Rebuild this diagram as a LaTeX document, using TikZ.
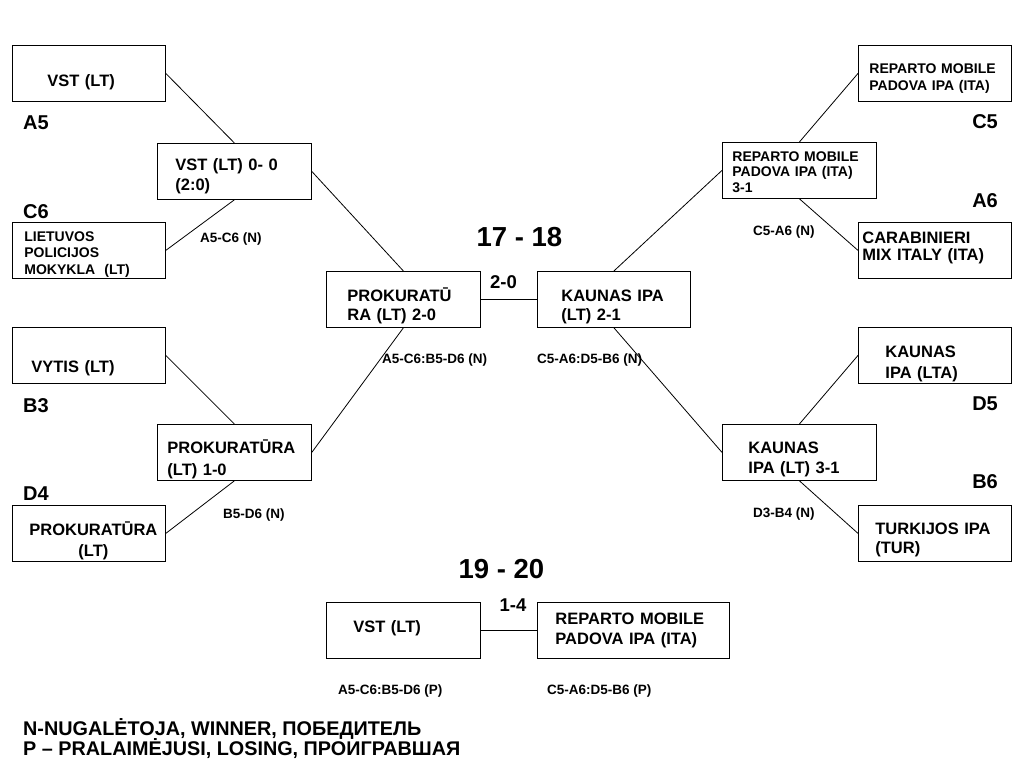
\documentclass[tikz,border=0pt]{standalone}
\usepackage{fontspec}
\setmainfont{Liberation Sans}
\newcommand\fz[2]{\fontsize{#1}{#2}\selectfont\bfseries\lineskiplimit=-30pt\relax}
\begin{document}
\begin{tikzpicture}[x=1pt,y=-1pt,
  box/.style={draw, line width=0.8pt, rectangle, inner ysep=0pt, minimum height=56pt, anchor=north west, align=left},
  link/.style={line width=0.8pt},
  grp/.style={anchor=base west, inner sep=0pt, font={\fz{20}{24}}},
  grpr/.style={anchor=base east, inner sep=0pt, font={\fz{20}{24}}},
  code/.style={anchor=base west, inner sep=0pt, font={\fz{13.5}{16}}},
  score/.style={anchor=base, inner sep=0pt, font={\fz{18.5}{22}}},
  title/.style={anchor=base, inner sep=0pt, font={\fz{27.5}{32}}}
]
\useasboundingbox[fill=white] (0,0) rectangle (1024,768);

% left upper
\node[box, inner xsep=35pt, text width=83pt, text height=38pt, text depth=12pt, font={\fz{16.5}{20}}] (a5) at (12,45) {VST (LT)};
\node[box, inner xsep=18pt, text width=118pt, text height=24pt, text depth=26pt, font={\fz{16.5}{20.5}}] (w1) at (157,143) {VST (LT) 0- 0\\(2:0)};
\node[box, inner xsep=12pt, text width=129pt, text height=16pt, text depth=34pt, font={\fz{14}{16.5}}] (c6) at (12,222) {LIETUVOS\\POLICIJOS\\MOKYKLA~~(LT)};

% left lower
\node[box, inner xsep=19pt, text width=115pt, text height=42pt, text depth=8pt, font={\fz{16.5}{20}}] (b3) at (12,327) {VYTIS (LT)};
\node[box, inner xsep=10pt, text width=134pt, text height=26pt, text depth=24pt, font={\fz{16.5}{22}}] (w2) at (157,424) {PROKURATŪRA\\(LT) 1-0};
\node[box, align=center, inner xsep=6pt, text width=141pt, text height=27pt, text depth=23pt, font={\fz{16.5}{21.5}}] (d4) at (12,505) {\hspace*{9pt}PROKURATŪRA\\\hspace*{9pt}(LT)};

% right upper
\node[box, inner xsep=11pt, text width=131pt, text height=25pt, text depth=25pt, font={\fz{14}{17}}] (c5) at (858,45) {REPARTO MOBILE\\PADOVA IPA (ITA)};
\node[box, inner xsep=10pt, text width=134pt, text height=16pt, text depth=34pt, font={\fz{14}{15.5}}] (rw) at (722,142) {REPARTO MOBILE\\PADOVA IPA (ITA)\\3-1};
\node[box, inner xsep=4pt, text width=145pt, text height=18pt, text depth=32pt, font={\fz{16.5}{17.5}}] (a6) at (858,222) {CARABINIERI\\MIX ITALY (ITA)};

% right lower
\node[box, inner xsep=27pt, text width=99pt, text height=27pt, text depth=23pt, font={\fz{16.5}{21}}] (d5) at (858,327) {KAUNAS\\IPA (LTA)};
\node[box, inner xsep=26pt, text width=102pt, text height=26pt, text depth=24pt, font={\fz{16.5}{20.5}}] (kw) at (722,424) {KAUNAS\\IPA (LT) 3-1};
\node[box, inner xsep=17pt, text width=119pt, text height=26pt, text depth=24pt, font={\fz{16.5}{19}}] (b6) at (858,505) {TURKIJOS IPA\\(TUR)};

% final 17-18
\node[box, inner xsep=21pt, text width=112pt, text height=27pt, text depth=23pt, font={\fz{16.5}{19.5}}] (fl) at (326,271) {PROKURATŪ\\RA (LT) 2-0};
\node[box, inner xsep=24pt, text width=105pt, text height=27pt, text depth=23pt, font={\fz{16.5}{19.5}}] (fr) at (537,271) {KAUNAS IPA\\(LT) 2-1};

% final 19-20
\node[box, inner xsep=27pt, text width=100pt, text height=27pt, text depth=23pt, font={\fz{16.5}{20}}] (bl) at (326,602) {VST (LT)};
\node[box, inner xsep=18pt, text width=156pt, text height=19pt, text depth=31pt, font={\fz{16.5}{20.5}}] (br) at (537,602) {REPARTO MOBILE\\PADOVA IPA (ITA)};

% connectors
\draw[link] (a5.east) -- (w1.north);
\draw[link] (w1.south) -- (c6.east);
\draw[link] (b3.east) -- (w2.north);
\draw[link] (w2.south) -- (d4.east);
\draw[link] (w1.east) -- (fl.north);
\draw[link] (fl.south) -- (w2.east);
\draw[link] (c5.west) -- (rw.north);
\draw[link] (rw.south) -- (a6.west);
\draw[link] (d5.west) -- (kw.north);
\draw[link] (kw.south) -- (b6.west);
\draw[link] (fr.north) -- (rw.west);
\draw[link] (fr.south) -- (kw.west);
\draw[link] (fl.east) -- (fr.west);
\draw[link] (bl.east) -- (br.west);

% group labels
\node[grp] (la5) at (23,129) {A5};
\node[grp] (lc6) at (23,218) {C6};
\node[grp] (lb3) at (23,412) {B3};
\node[grp] (ld4) at (23,500) {D4};
\node[grpr] (lc5) at (998,128) {C5};
\node[grpr] (la6) at (998,207) {A6};
\node[grpr] (ld5) at (998,410) {D5};
\node[grpr] (lb6) at (998,488) {B6};

% match codes
\node[code] (m1) at (200,242) {A5-C6 (N)};
\node[code] (m2) at (223,518) {B5-D6 (N)};
\node[code] (m3) at (753,235) {C5-A6 (N)};
\node[code] (m4) at (753,517) {D3-B4 (N)};
\node[code] (m5) at (382,363) {A5-C6:B5-D6 (N)};
\node[code] (m6) at (537,363) {C5-A6:D5-B6 (N)};
\node[code] (m7) at (338,694) {A5-C6:B5-D6 (P)};
\node[code] (m8) at (547,694) {C5-A6:D5-B6 (P)};

% titles and scores
\node[title] (t1) at (519.5,246) {17 - 18};
\node[score] (s1) at (503.5,288) {2-0};
\node[title] (t2) at (501.5,578) {19 - 20};
\node[score] (s2) at (513,611) {1-4};

% legend
\node[anchor=base west, inner sep=0pt, align=left, font={\fz{19.8}{20}}] (leg) at (23,755) {N-NUGALĖTOJA, WINNER, ПОБЕДИТЕЛЬ\\P – PRALAIMĖJUSI, LOSING, ПРОИГРАВШАЯ};
\end{tikzpicture}
\end{document}
